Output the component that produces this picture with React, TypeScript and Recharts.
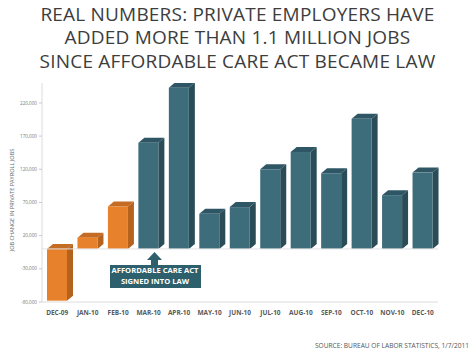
import React from 'react';
import { BarChart, Bar, XAxis, YAxis, ReferenceLine } from 'recharts';

const months = ['DEC-09', 'JAN-10', 'FEB-10', 'MAR-10', 'APR-10', 'MAY-10', 'JUN-10', 'JUL-10', 'AUG-10', 'SEP-10', 'OCT-10', 'NOV-10', 'DEC-10'];
const jobChange = [-78000, 17000, 64000, 160000, 243000, 53000, 63000, 120000, 146000, 114000, 196000, 81000, 115000];
const yTicks = [-80000, -30000, 20000, 70000, 120000, 170000, 220000];
const lawMonth = 'MAR-10';

const titleLines = [
  'REAL NUMBERS: PRIVATE EMPLOYERS HAVE',
  'ADDED MORE THAN 1.1 MILLION JOBS',
  'SINCE AFFORDABLE CARE ACT BECAME LAW',
];

const data = months.map((m, i) => ({ month: m, value: jobChange[i] }));
const lawIndex = months.indexOf(lawMonth);

const FONT = '"Open Sans", "DejaVu Sans", sans-serif';

const palette = {
  orange: { front: '#E8812B', side: '#B5621F', top: '#C46C24' },
  teal: { front: '#3D6C7B', side: '#294C57', top: '#2F5664' },
};

const Bar3D = (props: any) => {
  const { x, y, width, height, index } = props;
  const c = index < lawIndex ? palette.orange : palette.teal;
  const top = Math.min(y, y + height);
  const h = Math.abs(height);
  const dx = 6;
  const dy = 5;
  const r = x + width;
  return (
    <g>
      <polygon points={`${x},${top} ${x + dx},${top - dy} ${r + dx},${top - dy} ${r},${top}`} fill={c.top} />
      <polygon points={`${r},${top} ${r + dx},${top - dy} ${r + dx},${top + h - dy} ${r},${top + h}`} fill={c.side} />
      <rect x={x} y={top} width={width} height={h} fill={c.front} />
    </g>
  );
};

const fmt = (v: number) => v.toLocaleString('en-US');

export default function App() {
  return (
    <div style={{ position: 'absolute', left: 0, top: 0, width: 475, height: 356, background: '#fff', fontFamily: FONT }}>
      {titleLines.map((t, i) => (
        <div
          key={i}
          style={{
            position: 'absolute',
            left: 0,
            width: 475,
            top: 1.5 + i * 23.5,
            textAlign: 'center',
            fontSize: 19,
            lineHeight: '24px',
            color: '#3d3d3d',
            letterSpacing: 0.2,
            whiteSpace: 'nowrap',
          }}
        >
          {t}
        </div>
      ))}
      <BarChart
        width={475}
        height={356}
        data={data}
        margin={{ top: 83, right: 37, left: 0, bottom: 34 }}
        barSize={20}
      >
        <XAxis
          dataKey="month"
          height={20}
          tickLine={false}
          axisLine={{ stroke: '#dcdcdc' }}
          tick={{ fontSize: 6.5, fontWeight: 700, fill: '#5a5a5a', fontFamily: FONT }}
          interval={0}
        />
        <YAxis
          width={42}
          domain={[-80000, 250000]}
          ticks={yTicks}
          tickFormatter={fmt}
          tickSize={3}
          tickMargin={2}
          axisLine={{ stroke: '#dcdcdc' }}
          tickLine={{ stroke: '#c8c8c8' }}
          tick={{ fontSize: 4.6, fill: '#777', fontFamily: FONT }}
          allowDataOverflow
        />
        <ReferenceLine y={0} stroke="#e2e2e2" />
        <Bar dataKey="value" shape={Bar3D} isAnimationActive={false} />
      </BarChart>
      <div
        style={{
          position: 'absolute',
          left: 12,
          top: 200,
          transform: 'translate(-50%, -50%) rotate(-90deg)',
          fontSize: 5.6,
          color: '#666',
          whiteSpace: 'nowrap',
        }}
      >
        JOB CHANGE IN PRIVATE PAYROLL JOBS
      </div>
      <svg style={{ position: 'absolute', left: 0, top: 0 }} width={475} height={356}>
        <polygon points="154.5,252 162,260 147,260" fill="#2E5F6C" />
        <rect x={151} y={259.5} width={7} height={5.5} fill="#2E5F6C" />
      </svg>
      <div
        style={{
          position: 'absolute',
          left: 109.5,
          top: 264.5,
          width: 91,
          height: 23,
          background: '#2E5F6C',
          color: '#fff',
          fontWeight: 700,
          fontSize: 7.6,
          lineHeight: '11px',
          textAlign: 'center',
          paddingTop: 0.5,
          boxSizing: 'border-box',
          whiteSpace: 'nowrap',
        }}
      >
        AFFORDABLE CARE ACT
        <br />
        SIGNED INTO LAW
      </div>
      <div
        style={{
          position: 'absolute',
          right: 6,
          top: 341,
          fontSize: 6.6,
          color: '#555',
          whiteSpace: 'nowrap',
        }}
      >
        SOURCE: BUREAU OF LABOR STATISTICS, 1/7/2011
      </div>
    </div>
  );
}
